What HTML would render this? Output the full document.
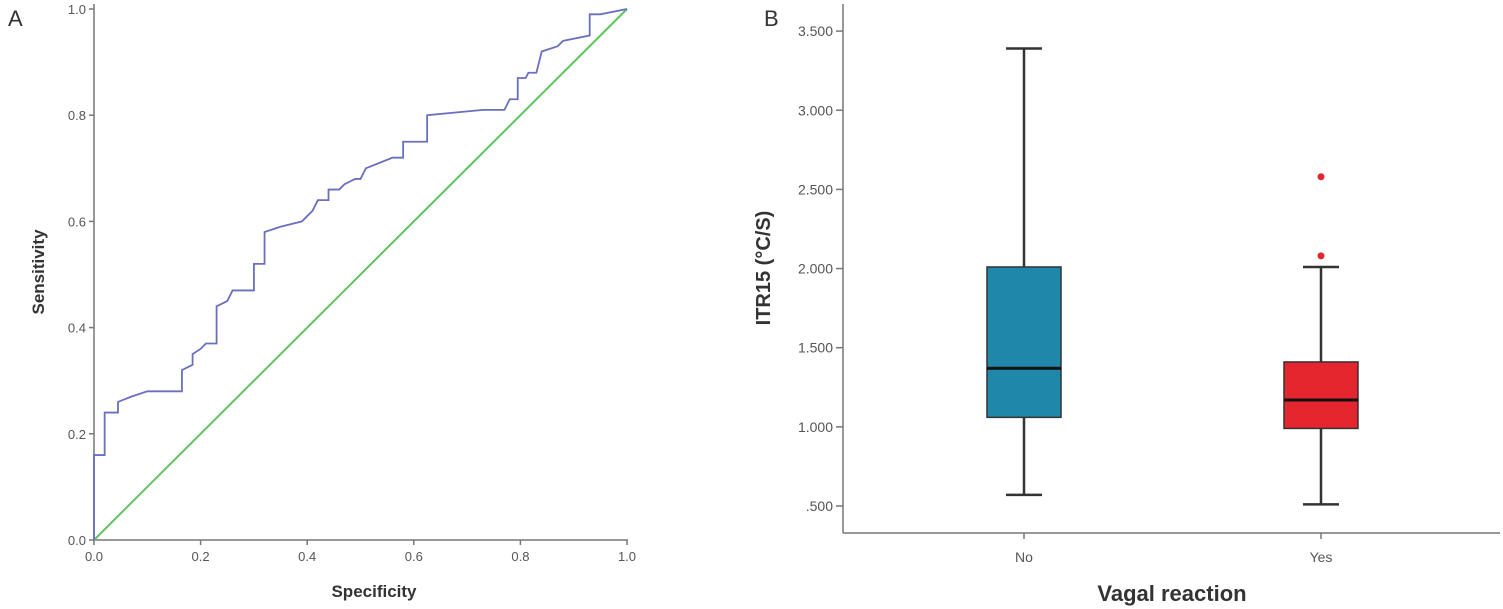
<!DOCTYPE html>
<html><head><meta charset="utf-8"><style>
body{margin:0;background:#fff;}
svg{display:block;font-family:"Liberation Sans",sans-serif;}
</style></head><body>
<svg id="fig" width="1503" height="609" viewBox="0 0 1503 609">
<text x="8" y="26" font-size="22" fill="#333">A</text>
<text x="764" y="26" font-size="22" fill="#333">B</text>
<g id="roc"></g>
<g id="box"></g>
</svg>
<script>
const rocX=[0,0,0.02,0.02,0.045,0.045,0.07,0.1,0.165,0.165,0.185,0.185,0.2,0.21,0.23,0.23,0.25,0.26,0.3,0.3,0.32,0.32,0.35,0.39,0.41,0.42,0.44,0.44,0.46,0.47,0.49,0.5,0.51,0.56,0.58,0.58,0.625,0.625,0.73,0.77,0.78,0.795,0.795,0.81,0.815,0.83,0.84,0.87,0.88,0.93,0.93,0.95,1];
const rocY=[0,0.16,0.16,0.24,0.24,0.26,0.27,0.28,0.28,0.32,0.33,0.35,0.36,0.37,0.37,0.44,0.45,0.47,0.47,0.52,0.52,0.58,0.59,0.6,0.62,0.64,0.64,0.66,0.66,0.67,0.68,0.68,0.7,0.72,0.72,0.75,0.75,0.8,0.81,0.81,0.83,0.83,0.87,0.87,0.88,0.88,0.92,0.93,0.94,0.95,0.99,0.99,1];
const rocTicks=[0,0.2,0.4,0.6,0.8,1.0];
const groups=["No","Yes"];
const whiskLow=[0.57,0.51];
const q1=[1.06,0.99];
const med=[1.37,1.17];
const q3=[2.01,1.41];
const whiskHigh=[3.39,2.01];
const outlierGroup=[1,1];
const outlierVal=[2.08,2.58];
const boxTicks=[0.5,1,1.5,2,2.5,3,3.5];
const boxTickLabels=[".500","1.000","1.500","2.000","2.500","3.000","3.500"];
const boxColors=["#1f88aa","#e5262f"];
const NS="http://www.w3.org/2000/svg";
function mk(p,t,a,txt){const e=document.createElementNS(NS,t);for(const k in a)e.setAttribute(k,a[k]);if(txt!==undefined)e.textContent=txt;p.appendChild(e);return e;}
let e;
// ROC chart
const R=document.getElementById('roc');
const rx=v=>94+v*533, ry=v=>540-v*531;
e=mk(R,'line',{x1:94,y1:4,x2:94,y2:540,stroke:'#777','stroke-width':1.5});


e=mk(R,'line',{x1:94,y1:540,x2:628,y2:540,stroke:'#777','stroke-width':1.5});


rocTicks.forEach(t=>{
 mk(R,'line',{x1:89,y1:ry(t),x2:94,y2:ry(t),stroke:'#777','stroke-width':1.5});
 e=mk(R,'text',{x:86,y:ry(t)+5,'text-anchor':'end','font-size':13,fill:'#555'},t.toFixed(1));
 
 
 mk(R,'line',{x1:rx(t),y1:540,x2:rx(t),y2:545,stroke:'#777','stroke-width':1.5});
 e=mk(R,'text',{x:rx(t),y:561,'text-anchor':'middle','font-size':13,fill:'#555'},t.toFixed(1));
 
 
});
e=mk(R,'text',{x:374,y:597,'text-anchor':'middle','font-size':17,'font-weight':'bold',fill:'#333'},'Specificity');


e=mk(R,'text',{x:0,y:0,'text-anchor':'middle','font-size':17,'font-weight':'bold',fill:'#333',transform:'translate(44,272) rotate(-90)'},'Sensitivity');


e=mk(R,'line',{x1:rx(0),y1:ry(0),x2:rx(1),y2:ry(1),stroke:'#5fc45f','stroke-width':2});


e=mk(R,'polyline',{points:rocX.map((x,i)=>rx(x)+','+ry(rocY[i])).join(' '),fill:'none',stroke:'#6a6fc0','stroke-width':1.8});


// Box plot
const B=document.getElementById('box');
const by=v=>506-(v-0.5)*158.3;
const bx=[1024,1321];
const bw=74;
e=mk(B,'line',{x1:843,y1:4,x2:843,y2:533,stroke:'#777','stroke-width':1.5});


e=mk(B,'line',{x1:843,y1:533,x2:1500,y2:533,stroke:'#777','stroke-width':1.5});


boxTicks.forEach((t,i)=>{
 mk(B,'line',{x1:836,y1:by(t),x2:843,y2:by(t),stroke:'#777','stroke-width':1.5});
 e=mk(B,'text',{x:833,y:by(t)+5,'text-anchor':'end','font-size':14,fill:'#555'},boxTickLabels[i]);
 
 
});
groups.forEach((g,i)=>{
 mk(B,'line',{x1:bx[i],y1:533,x2:bx[i],y2:539,stroke:'#777','stroke-width':1.5});
 e=mk(B,'text',{x:bx[i],y:562,'text-anchor':'middle','font-size':14,fill:'#555'},g);
 
 
 e=mk(B,'line',{x1:bx[i],y1:by(whiskHigh[i]),x2:bx[i],y2:by(whiskLow[i]),stroke:'#333','stroke-width':2.5});
 
 
 [whiskHigh[i],whiskLow[i]].forEach(v=>{
  e=mk(B,'line',{x1:bx[i]-18,y1:by(v),x2:bx[i]+18,y2:by(v),stroke:'#333','stroke-width':2.5});
  
  
 });
 e=mk(B,'rect',{x:bx[i]-bw/2,y:by(q3[i]),width:bw,height:by(q1[i])-by(q3[i]),fill:boxColors[i],stroke:'#333','stroke-width':1.5});
 
 
 e=mk(B,'line',{x1:bx[i]-bw/2,y1:by(med[i]),x2:bx[i]+bw/2,y2:by(med[i]),stroke:'#111','stroke-width':3});
 
 
});
outlierVal.forEach((v,i)=>{
 e=mk(B,'circle',{cx:bx[outlierGroup[i]],cy:by(v),r:3.5,fill:'#e5262f'});
 
 
});
e=mk(B,'text',{x:0,y:0,'text-anchor':'middle','font-size':20,'font-weight':'bold',fill:'#333',transform:'translate(770,268) rotate(-90)'},'ITR15 (°C/S)');


e=mk(B,'text',{x:1172,y:601,'text-anchor':'middle','font-size':22,'font-weight':'bold',fill:'#333'},'Vagal reaction');


</script>
</body></html>
